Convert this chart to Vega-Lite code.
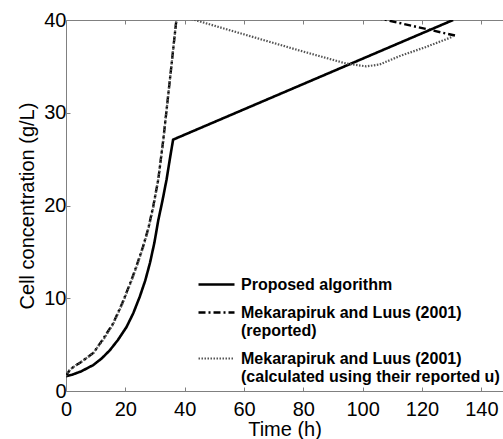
{
  "$schema": "https://vega.github.io/schema/vega-lite/v6.json",
  "autosize": "none",
  "padding": {"left": 66, "top": 20, "right": 0, "bottom": 48},
  "width": 437,
  "height": 371,
  "background": "white",
  "config": {
    "view": {"stroke": null},
    "font": "Liberation Sans",
    "axis": {
      "grid": false,
      "domainColor": "#808080",
      "tickColor": "#808080",
      "labelColor": "black",
      "titleColor": "black",
      "labelFontSize": 20,
      "titleFontSize": 20,
      "titleFontWeight": "normal",
      "labelFont": "Liberation Sans",
      "titleFont": "Liberation Sans"
    }
  },
  "data": {
    "values": [
      {"s": "Proposed algorithm", "t": 0, "c": 1.6},
      {"s": "Proposed algorithm", "t": 2, "c": 1.75},
      {"s": "Proposed algorithm", "t": 5, "c": 2.1},
      {"s": "Proposed algorithm", "t": 9.2, "c": 2.8},
      {"s": "Proposed algorithm", "t": 12, "c": 3.5},
      {"s": "Proposed algorithm", "t": 14.8, "c": 4.4},
      {"s": "Proposed algorithm", "t": 17.5, "c": 5.5},
      {"s": "Proposed algorithm", "t": 20.4, "c": 6.9},
      {"s": "Proposed algorithm", "t": 22.7, "c": 8.4},
      {"s": "Proposed algorithm", "t": 24.9, "c": 10.2},
      {"s": "Proposed algorithm", "t": 26.7, "c": 11.9},
      {"s": "Proposed algorithm", "t": 28.3, "c": 13.8},
      {"s": "Proposed algorithm", "t": 29.8, "c": 16.0},
      {"s": "Proposed algorithm", "t": 31.1, "c": 18.4},
      {"s": "Proposed algorithm", "t": 32.5, "c": 20.5},
      {"s": "Proposed algorithm", "t": 33.9, "c": 22.8},
      {"s": "Proposed algorithm", "t": 35.0, "c": 25.0},
      {"s": "Proposed algorithm", "t": 36.1, "c": 27.1},
      {"s": "Proposed algorithm", "t": 130.5, "c": 40},
      {"s": "Mekarapiruk and Luus (2001)|(reported)", "t": 0, "c": 1.6},
      {"s": "Mekarapiruk and Luus (2001)|(reported)", "t": 1.3, "c": 2.3},
      {"s": "Mekarapiruk and Luus (2001)|(reported)", "t": 3, "c": 2.7},
      {"s": "Mekarapiruk and Luus (2001)|(reported)", "t": 5, "c": 3.1},
      {"s": "Mekarapiruk and Luus (2001)|(reported)", "t": 9.2, "c": 4.1},
      {"s": "Mekarapiruk and Luus (2001)|(reported)", "t": 12.5, "c": 5.6},
      {"s": "Mekarapiruk and Luus (2001)|(reported)", "t": 15.9, "c": 7.3},
      {"s": "Mekarapiruk and Luus (2001)|(reported)", "t": 19.0, "c": 9.5},
      {"s": "Mekarapiruk and Luus (2001)|(reported)", "t": 22.1, "c": 12.0},
      {"s": "Mekarapiruk and Luus (2001)|(reported)", "t": 24.0, "c": 13.7},
      {"s": "Mekarapiruk and Luus (2001)|(reported)", "t": 26.0, "c": 15.6},
      {"s": "Mekarapiruk and Luus (2001)|(reported)", "t": 27.8, "c": 17.6},
      {"s": "Mekarapiruk and Luus (2001)|(reported)", "t": 29.4, "c": 19.9},
      {"s": "Mekarapiruk and Luus (2001)|(reported)", "t": 31.1, "c": 22.8},
      {"s": "Mekarapiruk and Luus (2001)|(reported)", "t": 32.8, "c": 27.1},
      {"s": "Mekarapiruk and Luus (2001)|(reported)", "t": 35.0, "c": 33.5},
      {"s": "Mekarapiruk and Luus (2001)|(reported)", "t": 37.2, "c": 40},
      {"s": "Mekarapiruk and Luus (2001)|(reported)", "t": 38.5, "c": 45},
      {"s": "Mekarapiruk and Luus (2001)|(reported)", "t": 131.5, "c": 38.3},
      {"s": "Mekarapiruk and Luus (2001)|(calculated using their reported u)", "t": 0, "c": 1.6},
      {"s": "Mekarapiruk and Luus (2001)|(calculated using their reported u)", "t": 1.3, "c": 2.3},
      {"s": "Mekarapiruk and Luus (2001)|(calculated using their reported u)", "t": 3, "c": 2.7},
      {"s": "Mekarapiruk and Luus (2001)|(calculated using their reported u)", "t": 5, "c": 3.1},
      {"s": "Mekarapiruk and Luus (2001)|(calculated using their reported u)", "t": 9.2, "c": 4.1},
      {"s": "Mekarapiruk and Luus (2001)|(calculated using their reported u)", "t": 12.5, "c": 5.5},
      {"s": "Mekarapiruk and Luus (2001)|(calculated using their reported u)", "t": 15.9, "c": 7.2},
      {"s": "Mekarapiruk and Luus (2001)|(calculated using their reported u)", "t": 19.0, "c": 9.4},
      {"s": "Mekarapiruk and Luus (2001)|(calculated using their reported u)", "t": 22.1, "c": 11.9},
      {"s": "Mekarapiruk and Luus (2001)|(calculated using their reported u)", "t": 24.0, "c": 13.6},
      {"s": "Mekarapiruk and Luus (2001)|(calculated using their reported u)", "t": 26.0, "c": 15.5},
      {"s": "Mekarapiruk and Luus (2001)|(calculated using their reported u)", "t": 27.8, "c": 17.5},
      {"s": "Mekarapiruk and Luus (2001)|(calculated using their reported u)", "t": 29.4, "c": 19.8},
      {"s": "Mekarapiruk and Luus (2001)|(calculated using their reported u)", "t": 31.1, "c": 22.8},
      {"s": "Mekarapiruk and Luus (2001)|(calculated using their reported u)", "t": 32.8, "c": 27.1},
      {"s": "Mekarapiruk and Luus (2001)|(calculated using their reported u)", "t": 35.0, "c": 33.5},
      {"s": "Mekarapiruk and Luus (2001)|(calculated using their reported u)", "t": 37.2, "c": 40},
      {"s": "Mekarapiruk and Luus (2001)|(calculated using their reported u)", "t": 38.3, "c": 40.5},
      {"s": "Mekarapiruk and Luus (2001)|(calculated using their reported u)", "t": 43.4, "c": 40},
      {"s": "Mekarapiruk and Luus (2001)|(calculated using their reported u)", "t": 64.3, "c": 38.05},
      {"s": "Mekarapiruk and Luus (2001)|(calculated using their reported u)", "t": 78.8, "c": 36.7},
      {"s": "Mekarapiruk and Luus (2001)|(calculated using their reported u)", "t": 94.5, "c": 35.3},
      {"s": "Mekarapiruk and Luus (2001)|(calculated using their reported u)", "t": 101.2, "c": 35.0},
      {"s": "Mekarapiruk and Luus (2001)|(calculated using their reported u)", "t": 105.7, "c": 35.2},
      {"s": "Mekarapiruk and Luus (2001)|(calculated using their reported u)", "t": 112.4, "c": 36.1},
      {"s": "Mekarapiruk and Luus (2001)|(calculated using their reported u)", "t": 121.4, "c": 37.1},
      {"s": "Mekarapiruk and Luus (2001)|(calculated using their reported u)", "t": 130.4, "c": 38.2}
    ]
  },
  "resolve": {"axis": {"x": "independent"}},
  "layer": [
    {
      "mark": {"type": "line", "clip": true},
      "encoding": {
        "x": {
          "field": "t", "type": "quantitative",
          "scale": {"domain": [0, 147.3], "nice": false, "zero": false},
          "axis": {"orient": "bottom", "title": "Time (h)", "values": [0, 20, 40, 60, 80, 100, 120, 140], "tickSize": -4, "labelPadding": 12, "titlePadding": 0, "labelFlush": false}
        },
        "y": {
          "field": "c", "type": "quantitative",
          "scale": {"domain": [0, 40], "nice": false},
          "axis": {"title": "Cell concentration (g/L)", "values": [0, 10, 20, 30, 40], "tickSize": -4, "labelPadding": 4, "titlePadding": 6, "labelFlush": false}
        },
        "color": {
          "field": "s", "type": "nominal",
          "scale": {
            "domain": ["Proposed algorithm", "Mekarapiruk and Luus (2001)|(reported)", "Mekarapiruk and Luus (2001)|(calculated using their reported u)"],
            "range": ["black", "black", "#555555"]
          },
          "legend": {
            "title": null,
            "orient": "none",
            "legendX": 131,
            "legendY": 245,
            "padding": 0,
            "symbolType": "stroke",
            "symbolSize": 1296,
            "labelFont": "Liberation Sans",
            "labelFontSize": 16,
            "labelFontWeight": "bold",
            "labelColor": "black",
            "labelOffset": 5,
            "labelLimit": 0,
            "labelLineHeight": 18.5,
            "rowPadding": 0,
            "labelExpr": "split(datum.label, '|')"
          }
        },
        "strokeDash": {
          "field": "s", "type": "nominal",
          "scale": {
            "domain": ["Proposed algorithm", "Mekarapiruk and Luus (2001)|(reported)", "Mekarapiruk and Luus (2001)|(calculated using their reported u)"],
            "range": [[1, 0], [7, 3, 2, 3], [1.5, 1.5]]
          }
        },
        "strokeWidth": {
          "field": "s", "type": "nominal",
          "scale": {
            "domain": ["Proposed algorithm", "Mekarapiruk and Luus (2001)|(reported)", "Mekarapiruk and Luus (2001)|(calculated using their reported u)"],
            "range": [2.6, 2.2, 1.6]
          }
        },
        "order": {"field": "t", "type": "quantitative"}
      }
    },
    {
      "mark": {"type": "line", "opacity": 0, "clip": true},
      "encoding": {
        "x": {
          "field": "t", "type": "quantitative",
          "axis": {"orient": "top", "title": null, "labels": false, "values": [0, 20, 40, 60, 80, 100, 120, 140], "tickSize": -4}
        },
        "y": {"field": "c", "type": "quantitative"},
        "detail": {"field": "s"}
      }
    }
  ]
}
